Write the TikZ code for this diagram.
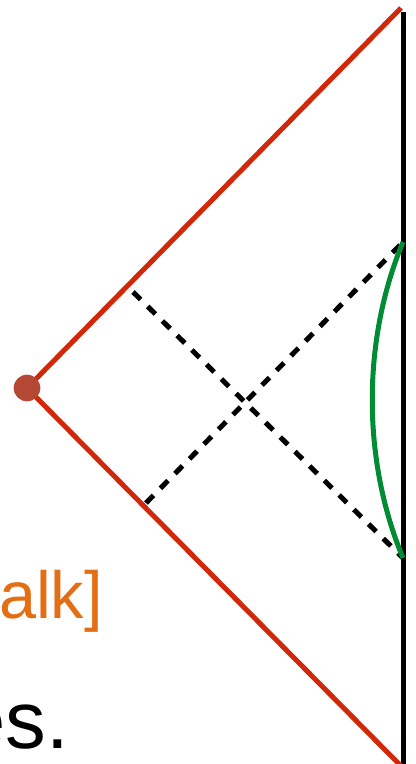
\documentclass[tikz,border=0pt]{standalone}
\usepackage{fontspec}
\setmainfont{Liberation Sans}

\definecolor{conered}{RGB}{210,40,10}
\definecolor{dotred}{RGB}{180,72,52}
\definecolor{curvegreen}{RGB}{0,140,50}
\definecolor{talkorange}{RGB}{228,110,20}

\begin{document}
\begin{tikzpicture}[x=0.75pt,y=-0.75pt]
	\useasboundingbox (0,0) rectangle (416,764);
%
	\coordinate (tip) at (27,388);
	\coordinate (top) at (401,8);
	\coordinate (bot) at (401,766);
	\coordinate (qa) at (403,242);
	\coordinate (qb) at (403,558);
%
	\draw[line width=3.75pt] (403,12) -- (403,764);
	\draw[conered,line width=3.75pt] (top) -- (tip) -- (bot);
	\draw[line width=3.75pt,dash pattern=on 8pt off 7.5pt] (133,292) -- (qb);
	\draw[line width=3.75pt,dash pattern=on 8pt off 7.5pt] (146,503) -- (qa);
	\draw[curvegreen,line width=3.75pt] (qa) .. controls (362,340) and (362,460) .. (qb);
	\fill[dotred] (tip) circle (10pt);
%
	\node[anchor=base east,inner sep=0,text=talkorange,font=\fontsize{50}{60}\selectfont] (talk) at (103,618) {[talk]};
	\node[anchor=base east,inner sep=0,font=\fontsize{61}{72}\selectfont] (tail) at (69,748) {es.};
\end{tikzpicture}
\end{document}
